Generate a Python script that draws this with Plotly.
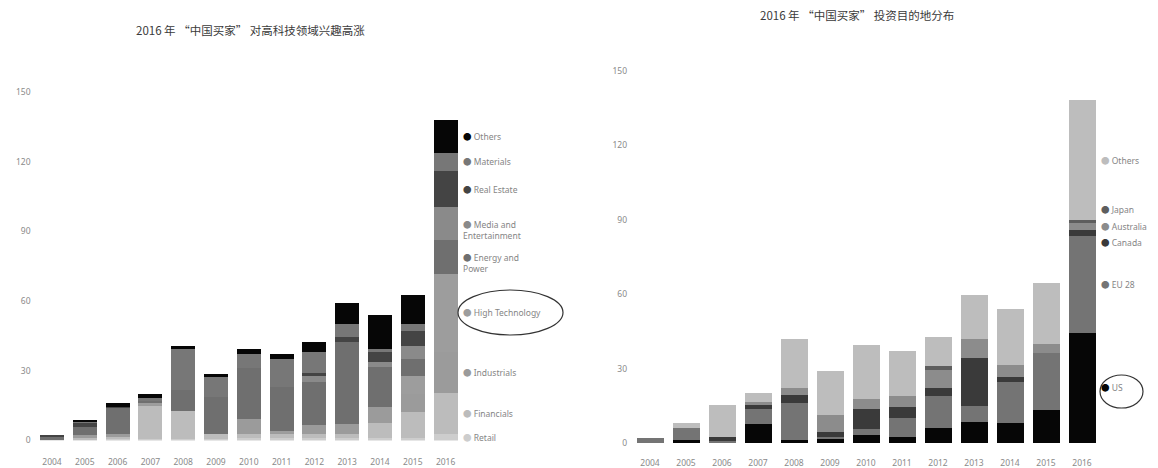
import plotly.graph_objects as go

W, H = 1158, 468

years = ["2004", "2005", "2006", "2007", "2008", "2009", "2010",
         "2011", "2012", "2013", "2014", "2015", "2016"]

# Left chart: sectors (bottom -> top), USD bn
retail        = [0.2, 0.5, 1.0, 0.5, 0.5, 0.5, 1.0, 1.0, 1.0, 1.0, 1.0, 1.0, 3.0]
financials    = [0.0, 0.5, 0.5, 14.5, 12.4, 2.5, 2.0, 2.0, 2.0, 2.0, 6.4, 11.1, 17.6]
industrials   = [0.0, 1.5, 1.5, 0.5, 0.0, 0.0, 6.4, 0.5, 3.6, 4.3, 6.9, 8.0, 17.6]
high_tech     = [0.0, 0.0, 0.0, 0.5, 0.0, 0.0, 0.0, 0.5, 0.0, 0.0, 0.0, 7.7, 33.4]
energy_power  = [1.4, 3.5, 11.0, 1.0, 9.0, 15.7, 22.0, 19.0, 18.6, 35.0, 17.4, 7.1, 14.6]
media_ent     = [0.0, 0.0, 0.0, 0.0, 0.0, 0.0, 0.0, 0.0, 2.9, 0.0, 1.9, 5.7, 14.1]
real_estate   = [0.4, 1.7, 0.5, 0.0, 0.0, 0.0, 0.0, 0.0, 0.8, 2.1, 4.3, 6.7, 15.9]
materials     = [0.0, 0.5, 0.0, 1.5, 17.3, 8.5, 6.0, 12.0, 9.3, 5.6, 1.4, 2.9, 7.7]
others_sector = [0.0, 0.3, 1.5, 1.5, 1.5, 1.5, 2.0, 2.1, 4.3, 9.0, 14.7, 12.4, 14.1]

sector_labels = ["Retail", "Financials", "Industrials", "High Technology",
                 "Energy and<br>Power", "Media and<br>Entertainment",
                 "Real Estate", "Materials", "Others"]

# Right chart: destinations (bottom -> top), USD bn
us        = [0.0, 1.2, 0.3, 7.8, 1.3, 1.7, 3.4, 2.5, 5.9, 8.4, 8.1, 13.1, 44.5]
eu28      = [1.9, 4.7, 0.7, 5.7, 14.8, 0.9, 2.3, 7.7, 13.2, 6.7, 16.5, 23.3, 38.9]
canada    = [0.0, 0.0, 1.6, 1.8, 3.4, 2.0, 8.1, 4.5, 3.0, 19.2, 2.0, 0.0, 2.4]
australia = [0.0, 0.0, 0.0, 1.4, 2.7, 6.5, 4.0, 4.3, 7.2, 7.6, 4.7, 3.6, 3.2]
japan     = [0.0, 0.0, 0.0, 0.0, 0.0, 0.0, 0.0, 0.0, 1.8, 0.0, 0.0, 0.0, 0.8]
others_ctry = [0.0, 2.3, 12.8, 3.4, 19.6, 17.9, 21.6, 18.2, 11.5, 17.8, 22.7, 24.3, 48.2]

country_labels = ["US", "EU 28", "Canada", "Australia", "Japan", "Others"]

y_ticks = [0, 30, 60, 90, 120, 150]

left_title = "2016 年 “中国买家” 对高科技领域兴趣高涨"
right_title = "2016 年 “中国买家” 投资目的地分布"

# ---- styles ----
sector_colors = ["#cdcdcd", "#bcbcbc", "#9b9b9b", "#9d9d9d", "#6f6f6f",
                 "#8a8a8a", "#444444", "#777777", "#060606"]
country_colors = ["#060606", "#747474", "#3a3a3a", "#8c8c8c", "#5e5e5e", "#bdbdbd"]

FONT = "Noto Sans, Noto Sans CJK SC, sans-serif"
TITLE_FONT = "Noto Sans CJK SC, Noto Sans, sans-serif"


def px_x(p):
    return p / W


def px_y(p):
    return 1 - p / H


fig = go.Figure()

sector_series = [retail, financials, industrials, high_tech, energy_power,
                 media_ent, real_estate, materials, others_sector]
for name, vals, col in zip(sector_labels, sector_series, sector_colors):
    fig.add_trace(go.Bar(x=years, y=vals, name=name, marker_color=col,
                         marker_line_width=0, width=0.73,
                         xaxis="x", yaxis="y", showlegend=False))

country_series = [us, eu28, canada, australia, japan, others_ctry]
for name, vals, col in zip(country_labels, country_series, country_colors):
    fig.add_trace(go.Bar(x=years, y=vals, name=name, marker_color=col,
                         marker_line_width=0, width=0.75,
                         xaxis="x2", yaxis="y2", showlegend=False))

annotations = []
last_idx = len(years) - 1


def add_labels(series, labels, colors, xref, yref, xshift, extra_shift):
    cum = 0.0
    for vals, lab, col, dy in zip(series, labels, colors, extra_shift):
        v = vals[-1]
        mid = cum + v / 2
        cum += v
        two_line = "<br>" in lab
        text = f'<span style="color:{col}">●</span> {lab}'
        annotations.append(dict(
            x=last_idx, y=mid, xref=xref, yref=yref,
            xanchor="left", yanchor="top" if two_line else "middle",
            yshift=(7 if two_line else 0) + dy, xshift=xshift,
            text=text, showarrow=False, align="left",
            font=dict(size=8.5, color="#858585", family=FONT)))


add_labels(sector_series, sector_labels, sector_colors, "x", "y", 15,
           [0, 0, 0, 0, 0, 0, 0, 0, 0])
add_labels(country_series, country_labels, country_colors, "x2", "y2", 17,
           [0, 0, -9, 0, 12, 0])

annotations.append(dict(x=px_x(250), y=px_y(30), xref="paper", yref="paper",
                        xanchor="center", yanchor="middle",
                        text=left_title, showarrow=False,
                        font=dict(size=11.5, color="#3a3a3a", family=TITLE_FONT)))
annotations.append(dict(x=px_x(857), y=px_y(15), xref="paper", yref="paper",
                        xanchor="center", yanchor="middle",
                        text=right_title, showarrow=False,
                        font=dict(size=11.5, color="#3a3a3a", family=TITLE_FONT)))

shapes = [
    dict(type="circle", xref="paper", yref="paper",
         x0=px_x(458), x1=px_x(563), y0=px_y(335), y1=px_y(290),
         line=dict(color="#333", width=1.2)),
    dict(type="circle", xref="paper", yref="paper",
         x0=px_x(1100), x1=px_x(1143), y0=px_y(408), y1=px_y(375),
         line=dict(color="#333", width=1.2)),
]

axis_common = dict(showgrid=False, zeroline=False, showline=False, ticks="",
                   automargin=False,
                   tickfont=dict(size=8.5, color="#8a8a8a", family=FONT))

xr = [-0.5, len(years) - 0.5]

fig.update_layout(
    width=W, height=H,
    margin=dict(l=0, r=0, t=0, b=0),
    paper_bgcolor="white", plot_bgcolor="white",
    barmode="stack",
    xaxis=dict(domain=[px_x(35.6), px_x(462)], type="category", range=xr,
               anchor="y", ticklabelstandoff=15, **axis_common),
    yaxis=dict(domain=[px_y(440.5), px_y(92)], range=[0, 150],
               tickvals=y_ticks, anchor="x", ticklabelstandoff=4, **axis_common),
    xaxis2=dict(domain=[px_x(632), px_x(1100)], type="category", range=xr,
                anchor="y2", ticklabelstandoff=13, **axis_common),
    yaxis2=dict(domain=[px_y(443), px_y(70.7)], range=[0, 150],
                tickvals=y_ticks, anchor="x2", ticklabelstandoff=4, **axis_common),
    annotations=annotations,
    shapes=shapes,
)

fig.write_html("out.html")
